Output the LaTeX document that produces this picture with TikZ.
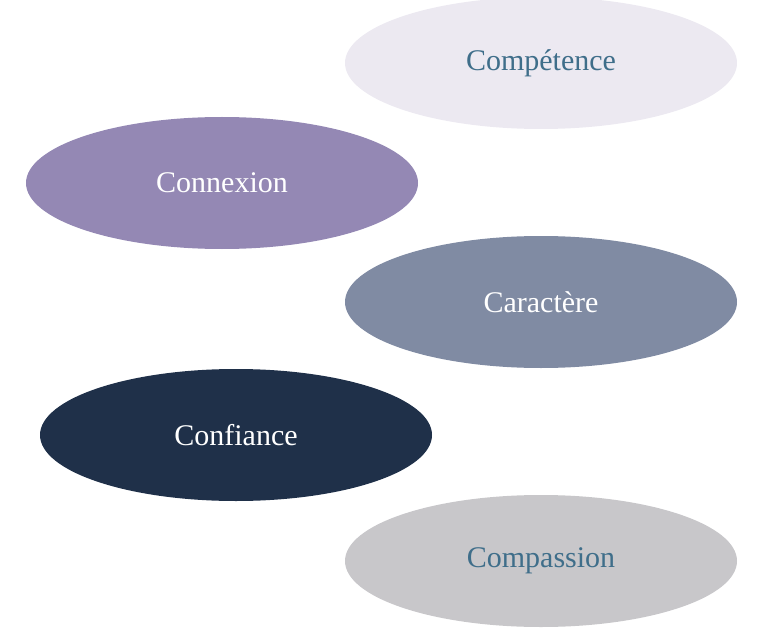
\documentclass[tikz,border=0pt]{standalone}
\usepackage{fontspec}
\setmainfont{Liberation Serif}
\usetikzlibrary{shapes.geometric}
\definecolor{paleLilac}{HTML}{ECE9F1}
\definecolor{lavender}{HTML}{9488B4}
\definecolor{slate}{HTML}{808BA3}
\definecolor{navy}{HTML}{1F3049}
\definecolor{silver}{HTML}{C8C7CA}
\definecolor{tealtext}{HTML}{3F6E8A}
\tikzset{
  bubble/.style = {shape=ellipse, inner sep=0pt,
                   minimum width=392pt, minimum height=132pt,
                   font=\fontsize{30}{34}\selectfont},
  light/.style  = {bubble, fill=paleLilac, text=tealtext},
  grey/.style   = {bubble, fill=silver, text=tealtext},
  mid/.style    = {bubble, fill=lavender, text=white},
  steel/.style  = {bubble, fill=slate, text=white},
  deep/.style   = {bubble, fill=navy, text=white}
}
\begin{document}
\begin{tikzpicture}[x=1pt, y=-1pt]
  \useasboundingbox (0,0) rectangle (778,628);

  \node[light] (competence) at (541,63)  {Compétence};
  \node[mid]   (connexion)  at (222,183) {Connexion};
  \node[steel] (caractere)  at (541,302) {Caractère};
  \node[deep]  (confiance)  at (236,435) {Confiance};
  \node[grey]  (compassion) at (541,561) {Compassion};

\end{tikzpicture}
\end{document}
